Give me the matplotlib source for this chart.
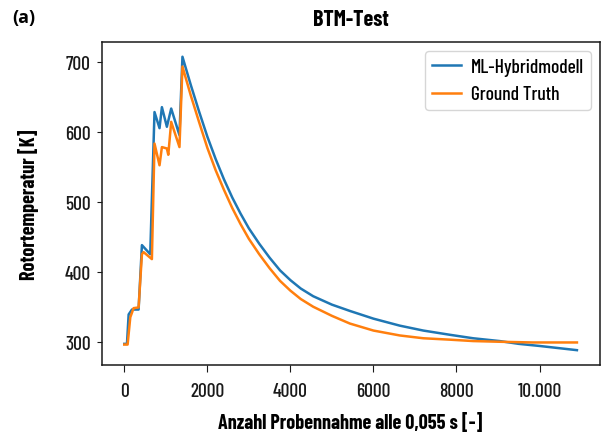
import matplotlib
matplotlib.use("Agg")
import matplotlib.pyplot as plt
from matplotlib import font_manager

# Werte (Probennummer, Temperatur in K)
x_ml = [0, 65, 105, 185, 345, 425, 625, 728, 849, 906, 1026, 1130, 1329, 1401,
        1600, 1800, 2000, 2200, 2400, 2600, 2800, 3000, 3250, 3500, 3750, 4000,
        4250, 4550, 5000, 5433, 6000, 6635, 7200, 7837, 8400, 9038, 9500, 10000,
        10450, 10900]
y_ml = [298, 298, 340, 347, 347, 439, 426, 629, 606, 636, 608, 634, 596, 708,
        668, 630, 594, 562, 533, 507, 484, 463, 441, 421, 403, 389,
        377, 366, 354, 345, 334, 324, 317, 311, 306, 302, 298, 295,
        292, 289]

x_gt = [0, 80, 145, 225, 345, 425, 465, 665, 728, 849, 906, 1026, 1060, 1130,
        1329, 1401, 1600, 1800, 2000, 2200, 2400, 2600, 2800, 3000, 3250, 3500,
        3750, 4000, 4250, 4550, 5000, 5433, 6000, 6635, 7200, 7837, 8400, 9038,
        9832, 10900]
y_gt = [297, 297, 336, 349, 350, 426, 429, 419, 584, 553, 579, 577, 568, 615,
        579, 694, 653, 615, 578, 546, 518, 492, 469, 448, 426, 406,
        388, 374, 362, 351, 338, 327, 317, 310, 306, 304, 302, 301,
        300, 300]

xticks = [0, 2000, 4000, 6000, 8000, 10000]
xtick_labels = ["0", "2000", "4000", "6000", "8000", "10.000"]
yticks = [300, 400, 500, 600, 700]

# schmale Schrift, falls vorhanden
names = set(f.name for f in font_manager.fontManager.ttflist)
fam = "Barlow Condensed" if "Barlow Condensed" in names else "DejaVu Sans"
plt.rcParams["font.family"] = [fam, "DejaVu Sans"]
plt.rcParams["font.weight"] = 500

fig = plt.figure(figsize=(6.05, 4.35), dpi=100)
ax = fig.add_axes([0.168, 0.159, 0.823, 0.742])

ax.plot(x_ml, y_ml, color="#1f77b4", lw=1.8, label="ML-Hybridmodell")
ax.plot(x_gt, y_gt, color="#ff7f0e", lw=1.8, label="Ground Truth")

ax.set_xticks(xticks)
ax.set_xticklabels(xtick_labels)
ax.set_yticks(yticks)
ax.tick_params(axis="x", labelsize=14, length=5, pad=7.5, colors="#1a1a1a")
ax.tick_params(axis="y", labelsize=14, length=3.5, pad=4.5, colors="#1a1a1a")
for s in ax.spines.values():
    s.set_linewidth(1.1)
    s.set_color("#1a1a1a")

ax.set_title("BTM-Test", fontsize=16, fontweight="bold", pad=12)
ax.set_xlabel("Anzahl Probennahme alle 0,055 s [-]", fontsize=14.5, fontweight="bold")
ax.set_ylabel("Rotortemperatur [K]", fontsize=14.5, fontweight="bold")
ax.xaxis.set_label_coords(0.5, -0.145)
ax.yaxis.set_label_coords(-0.125, 0.5)

ax.legend(loc="upper right", fontsize=14, handlelength=1.5,
          handletextpad=0.5, borderpad=0.35, borderaxespad=0.45)

fig.text(0.021, 1 - 9 / 435, "(a)", fontsize=13, fontweight="bold",
         family=["Open Sans", "DejaVu Sans"], ha="left", va="top")

fig.savefig("out.png", dpi=100)
